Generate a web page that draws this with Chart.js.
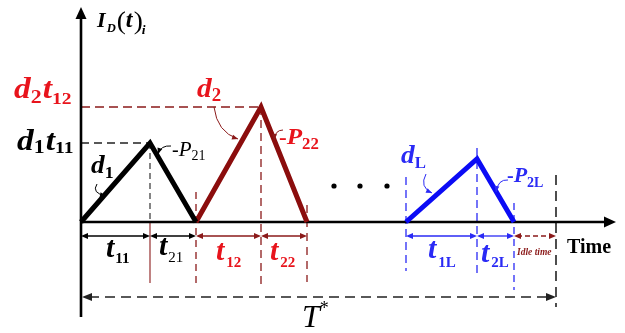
<!DOCTYPE html>
<html>
<head>
<meta charset="utf-8">
<script src="https://cdn.jsdelivr.net/npm/chart.js@4/dist/chart.umd.min.js"></script>
<style>
html,body{margin:0;padding:0;background:#fff;}
#wrap{width:625px;height:333px;}
</style>
</head>
<body>
<div id="wrap"><canvas id="c" width="625" height="333"></canvas></div>
<script>
// ---- data (time / current units, origin at the axes crossing) ----
const pulseNames = ['1', '2', 'L'];
const riseStart  = [0, 115, 325];
const peakTime   = [69, 180, 396];
const fallEnd    = [115, 226, 433];
const peakValue  = [79, 115, 63];
const idleEnd    = 475;
const pulseColors = ['#000000', '#8b0d0d', '#0b0bf5'];
const labelColors = ['#000000', '#e8141c', '#0b0bf5'];

const datasets = pulseNames.map((n, i) => ({
  label: 'Pulse ' + n,
  data: [{x: riseStart[i], y: 0}, {x: peakTime[i], y: peakValue[i]}, {x: fallEnd[i], y: 0}],
  showLine: true,
  borderColor: pulseColors[i],
  borderWidth: 5,
  pointRadius: 0,
  borderJoinStyle: 'miter',
  borderCapStyle: 'butt',
  fill: false
}));

const SERIF = '"Liberation Serif", "DejaVu Serif", serif';
function f(style, size) { return style + ' ' + size + 'px ' + SERIF; }

function rich(ctx, x, y, parts, color, sx) {
  sx = sx || 1;
  ctx.save();
  ctx.fillStyle = color;
  ctx.textBaseline = 'alphabetic';
  ctx.translate(x, y);
  ctx.scale(sx, 1);
  let cx = 0;
  for (const p of parts) {
    ctx.font = p[1];
    ctx.fillText(p[0], cx, (p[2] || 0));
    cx += ctx.measureText(p[0]).width + (p[3] || 0);
  }
  ctx.restore();
}

function line(ctx, x1, y1, x2, y2, color, w, dash) {
  ctx.save();
  ctx.strokeStyle = color; ctx.lineWidth = w;
  ctx.setLineDash(dash || []);
  ctx.beginPath(); ctx.moveTo(x1, y1); ctx.lineTo(x2, y2); ctx.stroke();
  ctx.restore();
}

function head(ctx, x, y, ang, color, len, hw) {
  ctx.save();
  ctx.fillStyle = color;
  ctx.translate(x, y); ctx.rotate(ang);
  ctx.beginPath(); ctx.moveTo(0, 0); ctx.lineTo(-len, -hw); ctx.lineTo(-len, hw); ctx.closePath(); ctx.fill();
  ctx.restore();
}

function dim(ctx, x1, x2, y, color, dash) {
  line(ctx, x1 + 3, y, x2 - 3, y, color, 1.3, dash);
  head(ctx, x1, y, Math.PI, color, 7, 3);
  head(ctx, x2, y, 0, color, 7, 3);
}

function pointer(ctx, x1, y1, cx, cy, x2, y2, color) {
  ctx.save();
  ctx.strokeStyle = color; ctx.lineWidth = 1;
  ctx.beginPath(); ctx.moveTo(x1, y1); ctx.quadraticCurveTo(cx, cy, x2, y2); ctx.stroke();
  ctx.restore();
  head(ctx, x2, y2, Math.atan2(y2 - cy, x2 - cx), color, 6, 2.5);
}

const decor = {
  id: 'decor',
  beforeDatasetsDraw(chart) {
    const ctx = chart.ctx;
    const xs = chart.scales.x, ys = chart.scales.y;
    const px = v => xs.getPixelForValue(v), py = v => ys.getPixelForValue(v);
    const x0 = px(0), y0 = py(0);
    const dred = '#8b1a1a', blue = '#2a2af5';
    // horizontal guides to peaks
    line(ctx, x0, py(peakValue[0]), px(peakTime[0]), py(peakValue[0]), '#222', 1.4, [8, 5]);
    line(ctx, x0, py(peakValue[1]), px(peakTime[1]), py(peakValue[1]), dred, 1.4, [9, 5]);
    // vertical guides
    line(ctx, px(peakTime[0]), py(peakValue[0]), px(peakTime[0]), y0, '#333', 1.2, [6, 4]);
    line(ctx, px(peakTime[0]), y0, px(peakTime[0]), 283, dred, 1.1);
    line(ctx, px(riseStart[1]), 192, px(riseStart[1]), 288, dred, 1.3, [7, 5]);
    line(ctx, px(peakTime[1]), py(peakValue[1]), px(peakTime[1]), 288, dred, 1.3, [8, 5]);
    line(ctx, px(fallEnd[1]), 205, px(fallEnd[1]), 282, dred, 1.3, [8, 6]);
    line(ctx, px(riseStart[2]), 177, px(riseStart[2]), 271, blue, 1.3, [8, 5]);
    line(ctx, px(peakTime[2]), 148, px(peakTime[2]), 276, blue, 1.3, [8, 5]);
    line(ctx, px(fallEnd[2]), 203, px(fallEnd[2]), 290, blue, 1.3, [7, 5]);
    line(ctx, px(idleEnd), 175, px(idleEnd), 307, '#222', 1.6, [10, 6]);
    // axes
    line(ctx, x0, 16, x0, 317, '#000', 2.6);
    head(ctx, x0, 7, -Math.PI / 2, '#000', 12, 5.5);
    line(ctx, x0, y0, 606, y0, '#000', 2.6);
    head(ctx, 616, y0, 0, '#000', 12, 5.5);
  },
  afterDatasetsDraw(chart) {
    const ctx = chart.ctx;
    const xs = chart.scales.x, ys = chart.scales.y;
    const px = v => xs.getPixelForValue(v), py = v => ys.getPixelForValue(v);
    const x0 = px(0);
    const dred = '#8b1a1a', blue = '#2a2af5', red = labelColors[1];
    const BI = s => f('bold italic', s), B = s => f('bold', s), I = s => f('italic', s);
    // dimension arrows
    const ay = 236;
    dim(ctx, x0, px(peakTime[0]), ay, '#000');
    dim(ctx, px(peakTime[0]), px(fallEnd[0]), ay, '#000');
    dim(ctx, px(riseStart[1]), px(peakTime[1]), ay, dred);
    dim(ctx, px(peakTime[1]), px(fallEnd[1]), ay, dred);
    dim(ctx, px(riseStart[2]), px(peakTime[2]), ay, blue);
    dim(ctx, px(peakTime[2]), px(fallEnd[2]), ay, blue);
    dim(ctx, px(fallEnd[2]), px(idleEnd), ay, dred, [5, 3]);
    // T* arrow
    line(ctx, x0 + 8, 297, px(idleEnd) - 8, 297, '#222', 1.6, [10, 6]);
    head(ctx, x0 + 1, 297, Math.PI, '#222', 10, 4);
    head(ctx, px(idleEnd), 297, 0, '#222', 10, 4);
    // axis labels
    rich(ctx, 97, 27, [['I', BI(21), 0, 1], ['D', BI(12), 5, 1], ['(', f('normal', 26), 2, 0], ['t', BI(23), 0, 1], [')', f('normal', 26), 2, -1], ['i', BI(13), 7]], '#000', 1.05);
    rich(ctx, 567, 253, [['Time', B(20)]], '#000');
    // value labels
    rich(ctx, 14, 98, [['d', BI(29)], ['2', B(19), 5, 1], ['t', BI(29), 0, 0], ['12', B(17), 6]], red, 1.15);
    rich(ctx, 17, 150, [['d', BI(29)], ['1', B(19), 3, 1], ['t', BI(29), 0, 0], ['11', B(17), 3]], '#000', 1.15);
    // slope labels
    rich(ctx, 91, 173, [['d', BI(26)], ['1', B(17), 5]], '#000', 1.05);
    pointer(ctx, 97, 184, 91, 193, 106, 196, '#000');
    rich(ctx, 172, 156, [['-', f('normal', 20)], ['P', I(21)], ['21', f('normal', 14), 4]], '#000');
    pointer(ctx, 171, 146, 161, 145, 158, 154, '#000');
    rich(ctx, 197, 97, [['d', BI(28)], ['2', B(18), 4]], red, 1.05);
    pointer(ctx, 214, 107, 217, 132, 238, 139, dred);
    rich(ctx, 279, 144, [['-', B(22)], ['P', BI(24)], ['22', B(16), 5]], red, 1.05);
    pointer(ctx, 283, 130, 275, 130, 274, 140, dred);
    rich(ctx, 401, 163, [['d', BI(26)], ['L', B(16), 5]], blue, 1.05);
    pointer(ctx, 426, 174, 419, 187, 432, 193, blue);
    rich(ctx, 507, 182, [['-', B(20)], ['P', BI(22)], ['2L', B(14), 5]], blue);
    pointer(ctx, 508, 180, 498, 179, 496, 192, blue);
    // ellipsis
    ctx.save(); ctx.fillStyle = '#000';
    [334, 360, 387].forEach(x => { ctx.beginPath(); ctx.arc(x, 186, 2.6, 0, Math.PI * 2); ctx.fill(); });
    ctx.restore();
    // duration labels
    rich(ctx, 106, 257, [['t', BI(30), 0, 1], ['11', B(15), 6]], '#000');
    rich(ctx, 159, 255, [['t', BI(30), 0, 1], ['21', f('normal', 15), 7]], '#000');
    rich(ctx, 216, 260, [['t', BI(30), 0, 2], ['12', B(15), 7]], red);
    rich(ctx, 270, 260, [['t', BI(30), 0, 2], ['22', B(15), 7]], red);
    rich(ctx, 428, 258, [['t', BI(30), 0, 2], ['1L', B(15), 9]], blue);
    rich(ctx, 481, 262, [['t', BI(30), 0, 2], ['2L', B(15), 5]], blue);
    rich(ctx, 517, 255, [['Idle time', BI(9.5)]], dred);
    rich(ctx, 302, 327, [['T', I(32), 0, 0], ['*', f('normal', 18), -13]], '#000');
  }
};

new Chart(document.getElementById('c'), {
  type: 'scatter',
  data: { datasets },
  options: {
    responsive: false,
    animation: false,
    layout: { padding: 0 },
    plugins: { legend: { display: false }, tooltip: { enabled: false } },
    scales: {
      x: { type: 'linear', display: false, min: -81, max: 544 },
      y: { type: 'linear', display: false, min: -111, max: 222 }
    },
    elements: { line: { tension: 0 } }
  },
  plugins: [decor]
});
</script>
</body>
</html>
